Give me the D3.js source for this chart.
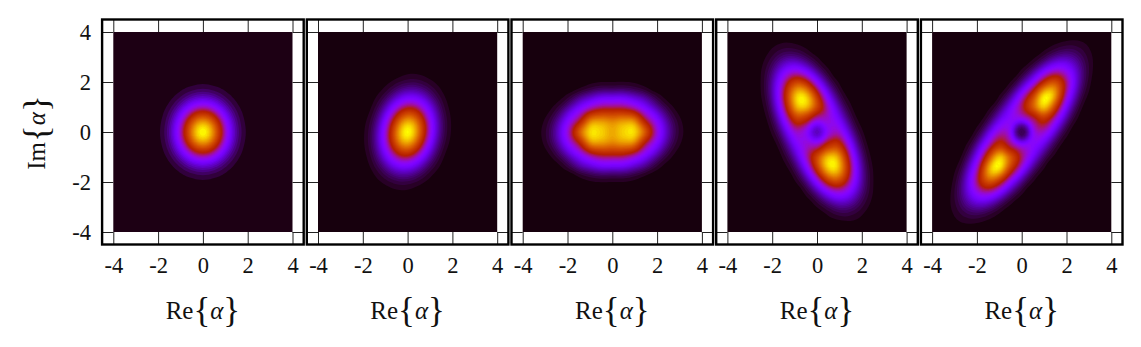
<!DOCTYPE html>
<html>
<head>
<meta charset="utf-8">
<style>
html, body { margin: 0; padding: 0; background: #fff; }
svg { display: block; }
text { font-family: "Liberation Serif", serif; fill: #111; }
</style>
<script src="https://cdn.jsdelivr.net/npm/d3@7"></script>
</head>
<body>
<div id="chart"></div>
<script>
var tickValues = [-4, -2, 0, 2, 4];
var gridX = [-4, -3.5, -3, -2.5, -2, -1.5, -1, -0.5, 0, 0.5, 1, 1.5, 2, 2.5, 3, 3.5, 4];

// values, x1000 of the peak. rows go from y=4 down to y=-4, columns from x=-4 to x=4
var one = [1,1,1,1,1,1,1,1,1,1,1,1,1,1,1,1,1];
var panel1 = [
    one, one, one,
    [1,1,1,1,1,1,1,2,2,2,1,1,1,1,1,1,1],
    [1,1,1,1,1,2,7,14,18,14,7,2,1,1,1,1,1],
    [1,1,1,1,2,11,39,82,105,82,39,11,2,1,1,1,1],
    [1,1,1,1,7,39,135,287,368,287,135,39,7,1,1,1,1],
    [1,1,1,2,14,82,287,607,779,607,287,82,14,2,1,1,1],
    [1,1,1,2,18,105,368,779,1000,779,368,105,18,2,1,1,1],
    [1,1,1,2,14,82,287,607,779,607,287,82,14,2,1,1,1],
    [1,1,1,1,7,39,135,287,368,287,135,39,7,1,1,1,1],
    [1,1,1,1,2,11,39,82,105,82,39,11,2,1,1,1,1],
    [1,1,1,1,1,2,7,14,18,14,7,2,1,1,1,1,1],
    [1,1,1,1,1,1,1,2,2,2,1,1,1,1,1,1,1],
    one, one, one
];
var panel2 = [
    one, one, one,
    [1,1,1,1,1,1,1,4,8,8,4,1,1,1,1,1,1],
    [1,1,1,1,1,2,9,27,44,42,23,7,1,1,1,1,1],
    [1,1,1,1,1,9,41,111,173,155,80,24,4,1,1,1,1],
    [1,1,1,1,3,27,120,310,458,389,189,53,8,1,1,1,1],
    [1,1,1,1,8,57,242,589,823,660,304,80,12,1,1,1,1],
    [1,1,1,1,12,82,330,758,1000,758,330,82,12,1,1,1,1],
    [1,1,1,1,12,80,304,660,823,589,242,57,8,1,1,1,1],
    [1,1,1,1,8,53,189,389,458,310,120,27,3,1,1,1,1],
    [1,1,1,1,4,24,80,155,173,111,41,9,1,1,1,1,1],
    [1,1,1,1,1,7,23,42,44,27,9,2,1,1,1,1,1],
    [1,1,1,1,1,1,4,8,8,4,1,1,1,1,1,1,1],
    one, one, one
];
var panel3 = [
    one, one, one, one,
    [1,1,1,1,1,4,11,16,16,17,13,6,1,1,1,1,1],
    [1,1,1,4,18,56,100,140,145,145,110,68,23,5,1,1,1],
    [1,1,5,27,95,210,340,420,430,425,350,220,105,33,6,1,1],
    [1,3,18,81,235,440,740,800,770,805,760,460,250,89,21,3,1],
    [1,5,29,118,336,677,945,940,870,940,945,677,336,118,29,5,1],
    [1,3,21,89,250,460,760,805,770,800,740,440,235,81,18,3,1],
    [1,1,6,33,105,220,350,425,430,420,340,210,95,27,5,1,1],
    [1,1,1,5,23,68,110,145,145,140,100,56,18,4,1,1,1],
    [1,1,1,1,1,6,13,17,16,16,11,4,1,1,1,1,1],
    one, one, one, one
];
var panel4 = [
    [1,1,1,1,2,4,3,1,1,1,1,1,1,1,1,1,1],
    [1,1,1,3,11,20,18,9,2,1,1,1,1,1,1,1,1],
    [1,1,1,8,35,77,88,53,17,3,1,1,1,1,1,1,1],
    [1,1,1,15,76,203,284,212,86,19,2,1,1,1,1,1,1],
    [1,1,1,18,114,365,609,550,278,81,13,1,1,1,1,1,1],
    [1,1,1,16,119,450,867,906,559,215,49,6,1,1,1,1,1],
    [1,1,1,10,90,390,825,907,643,347,121,22,2,1,1,1,1],
    [1,1,1,5,50,253,562,547,356,339,215,60,7,1,1,1,1],
    [1,1,1,2,22,133,339,304,130,304,339,133,22,2,1,1,1],
    [1,1,1,1,7,60,215,339,356,547,562,253,50,5,1,1,1],
    [1,1,1,1,2,22,121,347,643,907,825,390,90,10,1,1,1],
    [1,1,1,1,1,6,49,215,559,906,867,450,119,16,1,1,1],
    [1,1,1,1,1,1,13,81,278,550,609,365,114,18,1,1,1],
    [1,1,1,1,1,1,2,19,86,212,284,203,76,15,1,1,1],
    [1,1,1,1,1,1,1,3,17,53,88,77,35,8,1,1,1],
    [1,1,1,1,1,1,1,1,2,9,18,20,11,3,1,1,1],
    [1,1,1,1,1,1,1,1,1,1,1,3,4,2,1,1,1]
];
var panel5 = [
    [1,1,1,1,1,1,1,1,1,1,1,2,4,6,4,1,1],
    [1,1,1,1,1,1,1,1,1,1,6,17,28,26,13,3,1],
    [1,1,1,1,1,1,1,1,2,11,44,95,113,74,26,5,1],
    [1,1,1,1,1,1,1,2,17,77,209,323,278,131,33,4,1],
    [1,1,1,1,1,1,2,17,93,275,550,662,421,144,26,2,1],
    [1,1,1,1,1,1,14,84,286,590,947,834,375,101,13,1,1],
    [1,1,1,1,1,10,65,215,434,700,921,620,230,46,4,1,1],
    [1,1,1,1,6,48,178,284,280,423,560,340,104,14,1,1,1],
    [1,1,1,3,30,156,345,280,46,280,345,156,30,3,1,1,1],
    [1,1,1,14,104,340,560,423,280,284,178,48,6,1,1,1,1],
    [1,1,4,46,230,620,921,700,434,215,65,10,1,1,1,1,1],
    [1,1,13,101,375,834,947,590,286,84,14,1,1,1,1,1,1],
    [1,2,26,144,421,662,550,275,93,17,2,1,1,1,1,1,1],
    [1,4,33,131,278,323,209,77,17,2,1,1,1,1,1,1,1],
    [1,5,26,74,113,95,44,11,2,1,1,1,1,1,1,1,1],
    [1,3,13,26,28,17,6,1,1,1,1,1,1,1,1,1,1],
    [1,1,4,6,4,2,1,1,1,1,1,1,1,1,1,1,1]
];
var panels = [panel1, panel2, panel3, panel4, panel5];
var levelSteps = [25, 16, 16, 16, 16];

var chartW = 1141, chartH = 347;
var panelLeft = [113.3, 318, 522.7, 727.4, 932.1];
var panelW = 179.2, plotTop = 32, panelH = 200;
var upsample = 4;

var svg = d3.select("#chart").append("svg").attr("width", chartW).attr("height", chartH);

function gnuplotColor(t) {
    var r = Math.sqrt(t), g = t * t * t, b = Math.max(0, Math.sin(2 * Math.PI * t));
    return d3.rgb(255 * r, 255 * g, 255 * b) + "";
}

function cubic(a, b, c, d, f) {
    return b + 0.5 * f * (c - a + f * (2 * a - 5 * b + 4 * c - d + f * (3 * (b - c) + d - a)));
}

// finer log grid so the contour bands come out round instead of faceted
function fineGrid(rows) {
    var n = rows.length, m = (n - 1) * upsample + 1, out = new Array(m * m);
    function at(r, c) {
        r = Math.max(0, Math.min(n - 1, r));
        c = Math.max(0, Math.min(n - 1, c));
        return Math.log(rows[r][c]);
    }
    for (var y = 0; y < m; y++) {
        var r0 = Math.min(n - 2, Math.floor(y / upsample)), fy = y / upsample - r0;
        for (var x = 0; x < m; x++) {
            var c0 = Math.min(n - 2, Math.floor(x / upsample)), fx = x / upsample - c0;
            var col = [];
            for (var k = -1; k <= 2; k++) {
                col.push(cubic(at(r0 + k, c0 - 1), at(r0 + k, c0), at(r0 + k, c0 + 1), at(r0 + k, c0 + 2), fx));
            }
            out[y * m + x] = cubic(col[0], col[1], col[2], col[3], fy);
        }
    }
    return {values: out, size: m};
}

function drawPanel(idx) {
    var left = panelLeft[idx];
    var x = d3.scaleLinear().domain([-4, 4]).range([left, left + panelW]);
    var y = d3.scaleLinear().domain([-4, 4]).range([plotTop + panelH, plotTop]);
    var g = svg.append("g");
    var step = levelSteps[idx];

    g.append("rect")
        .attr("x", x(-4)).attr("y", y(4))
        .attr("width", x(4) - x(-4)).attr("height", y(-4) - y(4))
        .attr("fill", gnuplotColor(step / 2000));

    var fine = fineGrid(panels[idx]);
    var levels = [];
    for (var k = 1; k * step < 1300; k++) levels.push(k * step);
    var contours = d3.contours()
        .size([fine.size, fine.size])
        .thresholds(levels.map(function(d) { return Math.log(d); }))(fine.values);

    var cellX = (gridX[gridX.length - 1] - gridX[0]) / (fine.size - 1);
    var path = d3.geoPath(d3.geoTransform({
        point: function(cx, cy) {
            this.stream.point(x(-4 + (cx - 0.5) * cellX), y(4 - (cy - 0.5) * cellX));
        }
    }));

    g.selectAll("path.band")
        .data(contours)
        .enter().append("path")
        .attr("class", "band")
        .attr("d", path)
        .attr("fill", function(d, i) { return gnuplotColor(Math.min(1, (levels[i] + step / 2) / 1000)); });

    // axes run to +-4.5, ticks stop where the image starts
    var xFull = d3.scaleLinear().domain([-4.5, 4.5]).range([x(-4.5), x(4.5)]);
    var yFull = d3.scaleLinear().domain([-4.5, 4.5]).range([y(-4.5), y(4.5)]);
    var tickLen = x(-4) - x(-4.5);
    var tickLenY = y(-4.5) - y(-4);

    var axB = g.append("g").attr("transform", "translate(0," + y(-4.5) + ")")
        .call(d3.axisBottom(xFull).tickValues(tickValues).tickSizeInner(-tickLenY).tickSizeOuter(0).tickPadding(13).tickFormat(function(d) { return String(d); }));
    var axT = g.append("g").attr("transform", "translate(0," + y(4.5) + ")")
        .call(d3.axisTop(xFull).tickValues(tickValues).tickSizeInner(-tickLenY).tickSizeOuter(0).tickFormat(function() { return ""; }));
    var axL = g.append("g").attr("transform", "translate(" + x(-4.5) + ",0)")
        .call(d3.axisLeft(yFull).tickValues(tickValues).tickSizeInner(-tickLen).tickSizeOuter(0).tickPadding(11).tickFormat(function(d) { return idx == 0 ? String(d) : ""; }));
    var axR = g.append("g").attr("transform", "translate(" + x(4.5) + ",0)")
        .call(d3.axisRight(yFull).tickValues(tickValues).tickSizeInner(-tickLen).tickSizeOuter(0).tickFormat(function() { return ""; }));

    [axB, axT, axL, axR].forEach(function(a) {
        a.select(".domain").remove();
        a.selectAll("line").attr("stroke", "#222").attr("stroke-width", 1);
        a.selectAll("text").style("font-family", '"Liberation Serif", serif').style("font-size", "22.5px").attr("fill", "#111");
    });

    g.append("rect")
        .attr("x", x(-4.5)).attr("y", y(4.5))
        .attr("width", x(4.5) - x(-4.5)).attr("height", y(-4.5) - y(4.5))
        .attr("fill", "none").attr("stroke", "#000").attr("stroke-width", 2.4);

    axisTitle(g.append("text")
        .attr("x", x(0)).attr("y", 319)
        .attr("text-anchor", "middle"), "Re");
}

function axisTitle(sel, name) {
    sel.style("font-size", "25px");
    sel.append("tspan").text(name);
    sel.append("tspan").text("{").style("font-size", "35px").attr("dy", 2.5);
    sel.append("tspan").text("\u03b1").style("font-style", "italic").attr("dy", -2.5);
    sel.append("tspan").text("}").style("font-size", "35px").attr("dy", 2.5);
}

for (var p = 0; p < panels.length; p++) drawPanel(p);

axisTitle(svg.append("text")
    .attr("transform", "translate(45,132.5) rotate(-90)")
    .attr("text-anchor", "middle"), "Im");
</script>
</body>
</html>
